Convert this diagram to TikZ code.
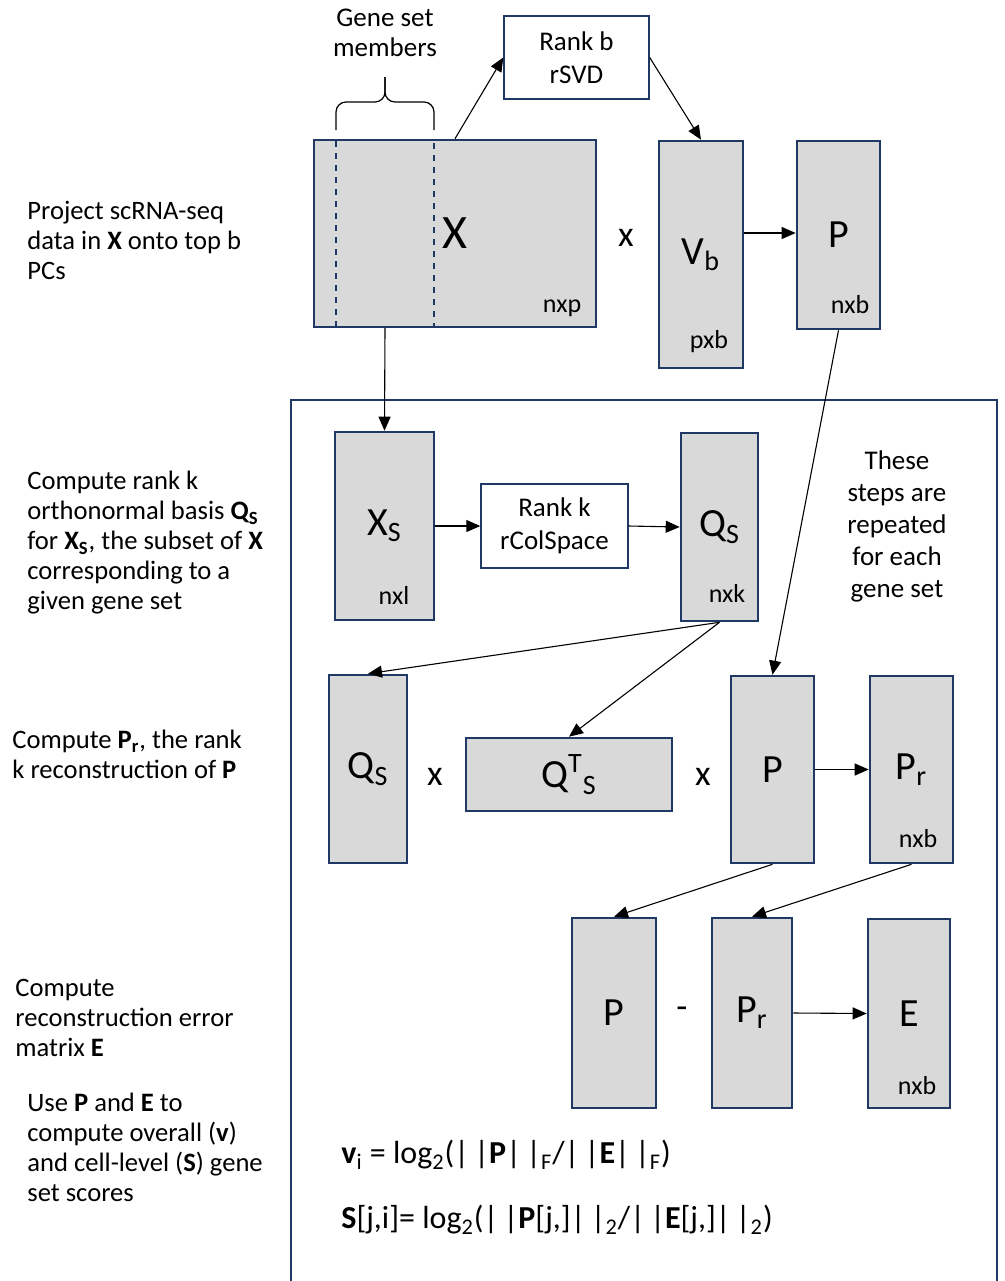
\documentclass[tikz,border=0pt]{standalone}
\usepackage{fontspec}
\setmainfont{Carlito}
\usepackage{tikz}
\usetikzlibrary{arrows.meta, positioning, calc}
\usepackage{xcolor}
\definecolor{matblue}{HTML}{1F3864}
\definecolor{matgray}{HTML}{D9D9D9}

\begin{document}
\begin{tikzpicture}[
  x=0.5pt, y=-0.5pt,
  mat/.style={draw=matblue, fill=matgray, line width=1.3pt, inner sep=0pt,
    font=\fontsize{20}{22}\selectfont},
  op/.style={draw=matblue, fill=white, line width=0.7pt, inner sep=0pt,
    align=center, font=\fontsize{13.5}{16.5}\selectfont},
  dim/.style={inner sep=0pt, font=\fontsize{13}{15}\selectfont},
  times/.style={inner sep=0pt, font=\fontsize{18}{20}\selectfont},
  note/.style={anchor=west, align=left, inner sep=0pt,
    font=\fontsize{13.3}{15}\selectfont},
  arr/.style={-{Triangle[length=7pt, width=6pt]}, line width=0.55pt}
]
  \useasboundingbox (0,0) rectangle (1005,1281);

  % Step descriptions
  \node[note] (n1) at (27,240) {Project scRNA-seq\\data in \textbf{X} onto top b\\PCs};
  \node[note] (n2) at (27,543) {Compute rank k\\orthonormal basis \textbf{Q\textsubscript{S}}\\for \textbf{X\textsubscript{S}}, the subset of \textbf{X}\\corresponding to a\\given gene set};
  \node[note] (n3) at (12,754) {Compute \textbf{P\textsubscript{r}}, the rank\\k reconstruction of \textbf{P}};
  \node[note] (n4) at (15,1018) {Compute\\reconstruction error\\matrix \textbf{E}};
  \node[note] (n5) at (27,1147) {Use \textbf{P} and \textbf{E} to\\compute overall (\textbf{v})\\and cell-level (\textbf{S}) gene\\set scores};

  % Projection onto top b PCs
  \node[mat, minimum width=141pt, minimum height=93.5pt,
    font=\fontsize{24}{26}\selectfont] (X) at (455,233.5) {X};
  \node[draw=matblue, dashed, line width=0.9pt, minimum width=49pt,
    minimum height=93.5pt, inner sep=0pt] (members) at (385,233.5) {};
  \node[dim] (Xdim) at (562,308) {nxp};
  \draw[line width=0.6pt, rounded corners=5pt] (336,130) -- (336,102) -- (385,102) -- (385,77);
  \draw[line width=0.6pt, rounded corners=5pt] (434,130) -- (434,102) -- (385,102) -- (385,77);
  \node[align=center, inner sep=0pt, font=\fontsize{13.5}{15}\selectfont] (gsm) at (385,33) {Gene set\\members};

  \node[op, minimum width=72.5pt, minimum height=41.5pt] (rsvd) at (576.5,57.5) {Rank b\\rSVD};
  \node[times] (t1) at (626,238) {x};
  \node[mat, minimum width=42pt, minimum height=113.5pt] (Vb) at (701,254.5) {V\textsubscript{b}};
  \node[dim] (Vbdim) at (709,342) {pxb};
  \node[mat, minimum width=41.5pt, minimum height=94pt] (P) at (838.5,235) {P};
  \node[dim] (Pdim) at (850,305) {nxb};

  \draw[arr] (X.north) -- (rsvd.west);
  \draw[arr] (rsvd.east) -- (Vb.north);
  \draw[arr] (Vb.east |- 0,233) -- (P.west |- 0,233);

  % Per gene set frame
  \draw[draw=matblue, line width=1pt] (291,1290) -- (291,400) -- (997,400) -- (997,1290);

  \node[mat, minimum width=49.5pt, minimum height=94pt] (Xs) at (384.5,526) {X\textsubscript{S}};
  \node[dim] (Xsdim) at (394,595) {nxl};
  \node[op, minimum width=73.5pt, minimum height=42pt] (rcs) at (554.5,526) {Rank k\\rColSpace};
  \node[mat, minimum width=38.5pt, minimum height=94pt] (Qs) at (719.5,527) {Q\textsubscript{S}};
  \node[dim] (Qsdim) at (727,593) {nxk};
  \node[align=center, inner sep=0pt, font=\fontsize{13.5}{16}\selectfont] (rep) at (897,526)
    {These\\steps are\\repeated\\for each\\gene set};

  \draw[arr] (members.south) -- (Xs.north);
  \draw[arr] (Xs.east) -- (rcs.west);
  \draw[arr] (rcs.east) -- (Qs.west);

  % Rank k reconstruction
  \node[mat, minimum width=39pt, minimum height=94pt] (Qs2) at (368,769) {Q\textsubscript{S}};
  \node[times] (t2) at (435,777) {x};
  \node[mat, minimum width=103pt, minimum height=36.5pt] (QsT) at (569,774.5) {Q\textsuperscript{T}\textsubscript{S}};
  \node[times] (t3) at (703,777) {x};
  \node[mat, minimum width=41.5pt, minimum height=93.5pt] (P2) at (772.5,769.5) {P};
  \node[mat, minimum width=41.5pt, minimum height=93.5pt] (Pr) at (911.5,769.5) {P\textsubscript{r}};
  \node[dim] (Prdim) at (918,839) {nxb};

  \draw[arr] (P.south) -- (P2.north);
  \draw[arr] (Qs.south) -- (Qs2.north);
  \draw[arr] (Qs.south) -- (QsT.north);
  \draw[arr] (P2.east) -- (Pr.west);

  % Reconstruction error
  \node[mat, minimum width=42pt, minimum height=95pt] (P3) at (614,1013) {P};
  \node[times] (t4) at (682,1013) {-};
  \node[mat, minimum width=40pt, minimum height=95pt] (Pr2) at (752,1013) {P\textsubscript{r}};
  \node[mat, minimum width=41pt, minimum height=94.5pt] (E) at (909,1013.5) {E};
  \node[dim] (Edim) at (917,1086) {nxb};

  \draw[arr] (P2.south) -- (P3.north);
  \draw[arr] (Pr.south) -- (Pr2.north);
  \draw[arr] (Pr2.east) -- (E.west);

  % Scores
  \node[anchor=west, inner sep=0pt, font=\fontsize{16}{18}\selectfont] (vscore) at (341,1155)
    {\textbf{v}\textsubscript{i} = log\textsubscript{2}(|\,|\textbf{P}|\,|\textsubscript{F}/|\,|\textbf{E}|\,|\textsubscript{F})};
  \node[anchor=west, inner sep=0pt, font=\fontsize{16}{18}\selectfont] (sscore) at (341,1220)
    {\textbf{S}[j,i]= log\textsubscript{2}(|\,|\textbf{P}[j,]|\,|\textsubscript{2}/|\,|\textbf{E}[j,]|\,|\textsubscript{2})};
\end{tikzpicture}
\end{document}
